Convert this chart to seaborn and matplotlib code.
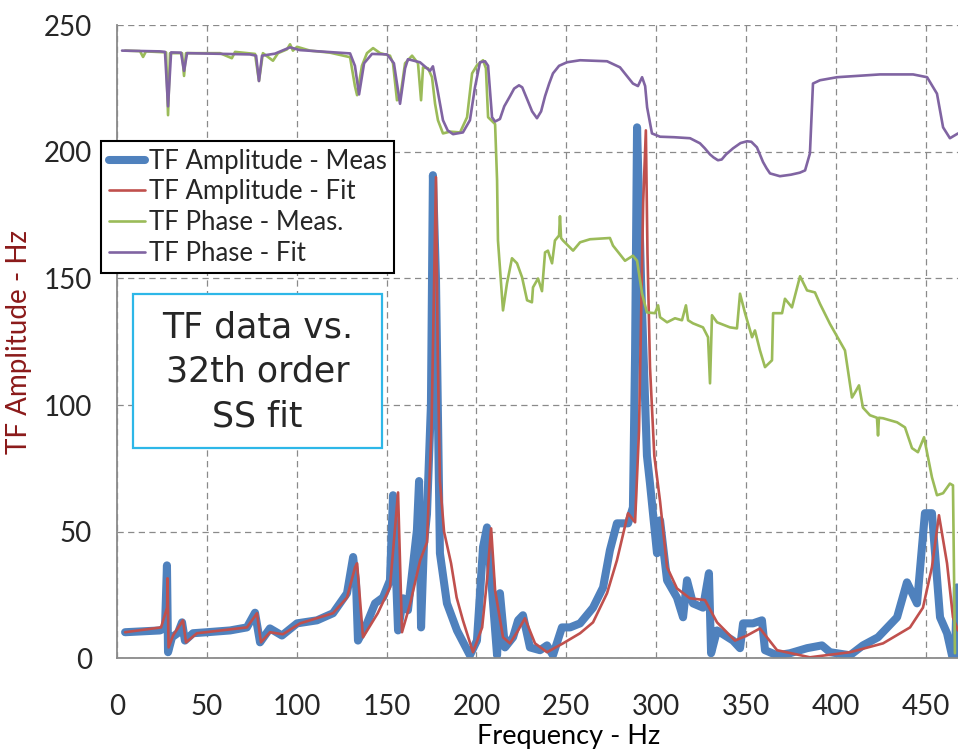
import matplotlib
matplotlib.use('Agg')
import matplotlib.pyplot as plt
from matplotlib.patches import Rectangle
import seaborn as sns

# ---- data (Hz, value) ----
amp_meas_f = [4.5, 23.9, 26.7, 27.8, 28.4, 30.6, 33.9, 36.2, 37.8, 42.3, 50.1, 62.9, 72.3, 76.8, 79.6,
              85.1, 91.8, 100.2, 111.3, 120.2, 128.0, 131.4, 133.0, 134.1, 139.1, 143.6, 148.0, 151.9,
              153.6, 156.4, 159.2, 161.9, 166.9, 168.1, 169.2, 170.8, 172.5, 174.7, 175.8, 177.5, 179.7,
              183.6, 189.2, 196.4, 200.3, 203.7, 205.9, 208.7, 211.5, 213.1, 215.9, 220.4, 223.2, 225.9,
              229.8, 235.4, 239.3, 242.6, 247.6, 252.1, 257.7, 264.9, 270.5, 274.3, 278.2, 284.4, 287.1,
              288.3, 289.4, 291.6, 294.9, 296.6, 300.5, 302.2, 306.1, 311.6, 315.0, 317.2, 320.5, 326.1,
              329.4, 330.6, 333.9, 342.8, 346.7, 348.4, 353.9, 358.9, 360.6, 367.3, 374.5, 384.0, 392.3,
              396.8, 407.9, 415.1, 423.5, 434.1, 439.6, 445.2, 449.6, 453.5, 458.0, 461.9, 464.7, 466.3,
              467.4]
amp_meas = [10.3, 11, 12, 36.7, 2.4, 8.3, 10, 14.2, 7, 9.9, 10.3, 11, 12.2, 18, 6.3,
            11.8, 9, 13.8, 15, 17.8, 25.7, 40, 30, 7, 13.8, 21.7, 24, 30.8,
            64.4, 11, 23.7, 19, 50.6, 70, 12.2, 45, 57, 100, 190.8, 150, 41.5,
            21.7, 11, 1.2, 7, 44, 51.7, 26.9, 1.2, 25.7, 4.3, 8.3, 15, 17,
            4.3, 3.2, 5.1, 1.2, 12.2, 12.2, 13.8, 20, 28, 42.7, 53.3, 53.3, 59.6,
            120, 209.7, 150, 80, 69, 41.5, 54.5, 30.8, 24, 16.2, 30.8, 21.7, 20,
            33.6, 2, 11, 7, 4, 13.8, 13.8, 15, 3.2, 1.2, 2, 4, 5.1,
            2.4, 1.2, 5.1, 8.3, 16.2, 30, 21.7, 57.3, 57.3, 16.2, 9.9, 1, 0.4,
            28]

amp_fit_f = [4.5, 24.5, 27.9, 28.1, 28.7, 31.2, 36.7, 38.4, 44.5, 72.3, 77.9, 80.1, 85.1, 92.3, 101.9,
             120.2, 128.0, 132.5, 133.6, 136.9, 145.1, 151.9, 156.4, 158.6, 163.2, 168.7, 172.5, 175.0,
             177.5, 178.5, 179.7, 182.0, 185.9, 189.0, 192.5, 198.1, 203.2, 205.9, 208.2, 210.4, 214.8,
             218.7, 223.2, 227.0, 232.6, 239.3, 248.2, 257.7, 264.9, 272.7, 278.2, 284.4, 288.3, 290.5,
             292.8, 294.3, 295.2, 296.6, 299.0, 302.2, 306.1, 311.6, 318.8, 327.2, 333.9, 343.9, 350.6,
             357.8, 367.3, 385.6, 407.9, 426.3, 441.3, 448.5, 453.5, 457.4, 461.9, 465.2, 468.0]
amp_fit = [10.3, 12.2, 20, 31.6, 4.3, 9, 15, 6.3, 9.9, 12.2, 17.8, 6.3, 10.3, 9.5, 13.8,
           17.8, 24, 36, 37.5, 8.3, 17.8, 28, 65.5, 10.3, 21.7, 38.7, 45.8, 90,
           190, 120, 70, 50, 37.5, 24, 15, 2.4, 12.2, 30.8, 51.3, 26.9, 8.3,
           5.9, 11, 15.8, 5.9, 2.4, 5.9, 9.9, 14.2, 25.7, 38.7, 57.3, 53.7, 90,
           180, 208.5, 160, 115, 80, 62, 36, 27.6, 23.7, 23, 14.2, 7, 9,
           11.8, 3.2, 0.4, 2.4, 5.9, 12.2, 20, 36, 56.5, 37.5, 16.2, 11]

ph_meas_f = [4.5, 12.8, 14.5, 16.1, 27.3, 28.4, 29.5, 36.2, 37.3, 38.4, 57.3, 63.9, 65.7, 76.8, 79.0,
             81.2, 86.8, 89.6, 94.6, 96.3, 97.9, 100.2, 107.4, 118.5, 129.7, 132.4, 133.6, 136.3, 139.1,
             142.5, 146.4, 151.9, 153.6, 155.8, 157.5, 160.3, 164.2, 167.5, 169.2, 170.3, 173.1, 175.3,
             177.0, 178.6, 181.4, 185.3, 190.9, 194.8, 197.6, 200.3, 203.7, 205.3, 206.5, 210.4, 211.5,
             212.0, 214.8, 217.0, 219.8, 222.6, 225.4, 228.2, 230.9, 231.5, 234.3, 236.5, 238.2, 239.8,
             242.1, 243.7, 246.0, 246.5, 247.1, 248.2, 253.8, 257.7, 263.2, 274.3, 276.0, 282.7, 287.1,
             289.4, 292.2, 294.9, 299.4, 301.1, 302.2, 306.1, 310.5, 314.4, 316.6, 317.8, 320.5, 326.1,
             328.9, 330.0, 331.1, 333.9, 341.1, 345.0, 346.7, 349.5, 353.4, 355.0, 357.8, 360.6, 364.5,
             365.1, 370.1, 371.7, 375.6, 380.1, 384.0, 388.4, 391.2, 396.8, 405.1, 409.0, 410.7, 412.9,
             415.1, 419.0, 422.9, 423.5, 424.0, 426.3, 434.1, 438.5, 442.4, 445.7, 449.1, 453.5, 456.3,
             459.7, 463.5, 465.2, 466.3]
ph_meas = [240, 239.8, 237.5, 239.7, 239.3, 214.5, 239, 239, 230, 239, 239, 237, 239.5, 238.7, 228,
           239, 236, 239, 240.5, 242.5, 240, 241.5, 240, 239.2, 237.4, 226, 222.4, 234, 239,
           241, 239, 238, 235, 220.4, 221, 235, 238, 235, 220.4, 233.4, 233, 229.5,
           219, 212.5, 207.3, 208, 207.7, 213.7, 231, 234.2, 236.2, 233, 213.7, 211, 188.8,
           165, 137.4, 148, 158, 156, 150.5, 141.4, 140.6, 146.5, 150, 145, 160.3, 161,
           156, 165, 167, 174.6, 166, 165, 161, 164.3, 165.5, 166, 163, 157, 159,
           157, 144, 136.6, 136.3, 139.4, 134.7, 132.7, 134.3, 133.5, 139.4, 133.5, 132.3, 130.7,
           126.8, 108.6, 135.5, 132.7, 130.7, 130.3, 144, 136.3, 126.8, 129.5, 121.6, 115, 117.7,
           136.3, 136.3, 142, 138.6, 150.9, 145.3, 144.5, 140, 132, 121.6, 103, 105, 107.8,
           99, 96, 95, 88, 95, 94.8, 93.2, 91.2, 83, 81.4, 87.3, 71.5, 64.4,
           65.2, 69, 68.3, 2]

ph_fit_f = [2.8, 23.9, 26.7, 28.4, 30.1, 35.6, 37.3, 39.0, 74.0, 77.4, 79.0, 80.7, 87.9, 96.3, 101.8,
            129.7, 132.4, 134.7, 137.5, 141.9, 150.3, 154.1, 157.5, 160.3, 161.9, 168.6, 174.2, 175.8,
            178.1, 181.4, 184.0, 187.0, 192.5, 196.4, 199.2, 202.0, 204.8, 206.5, 208.7, 210.4, 213.1,
            215.5, 218.7, 221.0, 223.7, 225.5, 228.7, 231.0, 233.7, 236.0, 238.2, 240.5, 242.6, 246.0,
            250.4, 257.7, 272.7, 279.9, 287.1, 289.9, 292.2, 293.9, 295.0, 297.7, 302.2, 310.0, 318.9,
            324.4, 327.0, 330.0, 332.0, 334.4, 336.5, 338.9, 342.8, 347.0, 350.6, 353.0, 356.1, 359.5,
            361.5, 363.4, 368.9, 375.0, 380.0, 382.9, 385.6, 387.3, 391.2, 400.7, 424.6, 443.0, 450.8,
            456.3, 459.7, 463.5, 468.0]
ph_fit = [240, 239.7, 239.5, 218, 239.3, 239.2, 232, 239, 238.5, 238, 228, 238, 238.8, 241.3, 240.2,
          238.9, 234, 222.7, 235, 238.7, 238.5, 235, 219, 233, 236.6, 235.4, 232, 233.8,
          225.5, 212.5, 208.5, 207, 207.7, 212.5, 225.5, 235.4, 235.8, 234, 213.7, 212, 213,
          218, 222, 225, 226.3, 225.5, 220, 216, 213.3, 216, 222, 227, 231, 234,
          235.4, 236.2, 235.8, 233.4, 227, 226, 229.5, 226, 217.6, 207.3, 206, 205.8, 205.4,
          203.4, 201.5, 199, 197.8, 196.7, 197, 199, 201.4, 203.5, 204.2, 204, 201.8, 196,
          193.5, 191.5, 190.4, 191, 191.8, 192.7, 199.4, 227, 228.3, 229.5, 230.6, 230.6, 229.5,
          223, 209.7, 205.4, 207.3]

x_ticks = [0, 50, 100, 150, 200, 250, 300, 350, 400, 450]
y_ticks = [0, 50, 100, 150, 200, 250]

sns.set_style("white")
plt.rcParams['font.family'] = ['Lato', 'DejaVu Sans']

fig = plt.figure(figsize=(9.58, 7.51), dpi=100)
ax = fig.add_axes([117 / 958, 1 - 658.3 / 751, (958 - 117) / 958, (658.3 - 25.3) / 751])

sns.lineplot(x=amp_meas_f, y=amp_meas, ax=ax, color='#4F81BD', lw=5.8, sort=False,
             estimator=None, label='TF Amplitude - Meas')
sns.lineplot(x=amp_fit_f, y=amp_fit, ax=ax, color='#C0504D', lw=1.9, sort=False,
             estimator=None, label='TF Amplitude - Fit')
sns.lineplot(x=ph_meas_f, y=ph_meas, ax=ax, color='#9BBB59', lw=1.9, sort=False,
             estimator=None, label='TF Phase - Meas.')
sns.lineplot(x=ph_fit_f, y=ph_fit, ax=ax, color='#8064A2', lw=1.9, sort=False,
             estimator=None, label='TF Phase - Fit')

ax.set_xlim(0, 468)
ax.set_ylim(0, 250)
ax.set_xticks(x_ticks)
ax.set_yticks(y_ticks)
ax.grid(True, color='#8a8a8a', linestyle=(0, (5, 3.5)), linewidth=0.9)
ax.set_axisbelow(True)
for side in ['top', 'right']:
    ax.spines[side].set_visible(False)
for side in ['left', 'bottom']:
    ax.spines[side].set_color('#8a8a8a')
    ax.spines[side].set_linewidth(1.3)
ax.tick_params(axis='x', direction='out', length=7, width=1.2, color='#8a8a8a', pad=19, labelsize=20)
ax.tick_params(axis='y', direction='out', length=7, width=1.2, color='#8a8a8a', pad=11, labelsize=20)

ax.set_xlabel('Frequency - Hz', fontsize=19.5, color='black')
ax.xaxis.set_label_coords(0.537, -0.104)
ax.set_ylabel('TF Amplitude - Hz', fontsize=20, color='#8B1A1A')
ax.yaxis.set_label_coords(-0.101, 0.50)

handles, labels = ax.get_legend_handles_labels()
ax.get_legend().remove()
leg = fig.legend(handles, labels, loc='upper left', bbox_to_anchor=(101 / 958, 1 - 141 / 751),
                 frameon=True, fancybox=False, edgecolor='black', framealpha=1, fontsize=18.5,
                 handlelength=1.4, handletextpad=0.15, labelspacing=0.22, borderpad=0.3,
                 borderaxespad=0)
leg.get_frame().set_linewidth(1.5)

box = Rectangle((133 / 958, 1 - 448 / 751), 249 / 958, 154 / 751, transform=fig.transFigure,
                facecolor='white', edgecolor='#2DB7E8', lw=1.6, zorder=5)
fig.add_artist(box)
fig.text(257.5 / 958, 1 - 372 / 751, 'TF data vs.\n32th order\nSS fit', ha='center', va='center',
         fontsize=25, linespacing=1.38, family=['DejaVu Sans'], zorder=6)

fig.savefig('out.png', dpi=100)
